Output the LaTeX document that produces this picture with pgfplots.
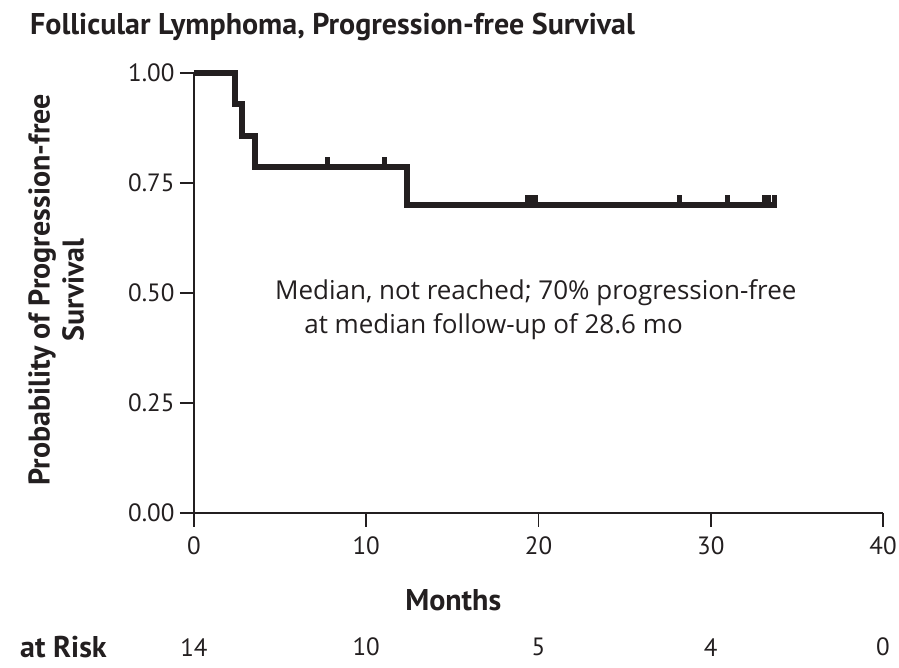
\documentclass[border=0pt]{standalone}
\usepackage{pgfplots}
\pgfplotsset{compat=1.18}
\usepackage{fontspec}
\setmainfont{PT Sans}
\newfontfamily\opensans{Open Sans}
\definecolor{ink}{HTML}{231F20}
\pgfdeclareplotmark{cens}{%
  \pgfpathmoveto{\pgfqpoint{0pt}{0pt}}%
  \pgfpathlineto{\pgfqpoint{0pt}{\pgfplotmarksize}}%
  \pgfusepathqstroke}
\begin{document}
\begin{tikzpicture}
\begin{axis}[
  scale only axis,
  width=689pt, height=440pt,
  xmin=0, xmax=40, ymin=0, ymax=1,
  axis lines*=left,
  axis line style={ink, line width=1.6pt},
  xtick={0,10,20,30,40},
  ytick={0,0.25,0.5,0.75,1},
  tick align=outside,
  major tick length=14pt,
  tick style={ink, line width=1.6pt},
  /pgf/number format/assume math mode=true,
  yticklabel style={xshift=-2pt, /pgf/number format/.cd, fixed, fixed zerofill, precision=2},
  xticklabel style={yshift=-6pt},
  ticklabel style={font=\fontsize{25}{29}\selectfont, text=ink},
  clip=false,
]
\addplot[const plot, ink, line width=6pt, line cap=butt] coordinates {
  (0,1) (2.38,0.929) (2.77,0.857) (3.54,0.786) (12.35,0.699) (33.85,0.699)
};
\addplot[only marks, mark=cens, mark size=10pt, ink, line width=5pt] coordinates {
  (7.76,0.786) (11.05,0.786)
  (19.35,0.699) (19.6,0.699) (19.85,0.699)
  (28.2,0.699) (31.0,0.699) (33.1,0.699) (33.35,0.699) (33.7,0.699)
};
\node[anchor=west, text=ink, font=\opensans\fontsize{26}{30}\selectfont] at (axis cs:4.5,0.5) {Median, not reached; 70\% progression-free};
\node[anchor=west, text=ink, font=\opensans\fontsize{26}{30}\selectfont] at (axis cs:6.2,0.4227) {at median follow-up of 28.6 mo};
\node[text=ink, font=\bfseries\fontsize{30}{34}\selectfont] at (axis cs:15.05,-0.198) {Months};
\node[anchor=west, inner sep=0pt, text=ink, font=\bfseries\fontsize{30}{34}\selectfont] at (axis cs:-10.1,-0.305) {at Risk};
\node[text=ink, font=\fontsize{25}{29}\selectfont] at (axis cs:0,-0.305) {14};
\node[text=ink, font=\fontsize{25}{29}\selectfont] at (axis cs:10,-0.305) {10};
\node[text=ink, font=\fontsize{25}{29}\selectfont] at (axis cs:20,-0.305) {5};
\node[text=ink, font=\fontsize{25}{29}\selectfont] at (axis cs:30,-0.305) {4};
\node[text=ink, font=\fontsize{25}{29}\selectfont] at (axis cs:40,-0.305) {0};
\node[rotate=90, align=center, text=ink, font=\bfseries\fontsize{30}{34}\selectfont] at (axis cs:-8.0,0.507) {Probability of Progression-free\\Survival};
\node[anchor=west, inner sep=0pt, text=ink, font=\bfseries\fontsize{30}{34}\selectfont] at (axis cs:-9.52,1.105) {Follicular Lymphoma, Progression-free Survival};
\end{axis}
\pgfresetboundingbox
\path[use as bounding box] (-194pt,-155pt) rectangle (705pt,513pt);
\end{tikzpicture}
\end{document}
